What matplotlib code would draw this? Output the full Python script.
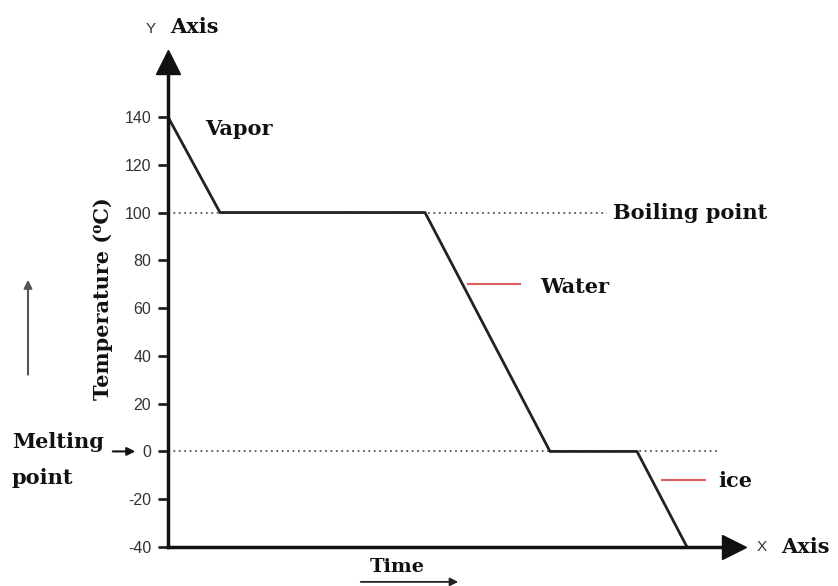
import matplotlib.pyplot as plt
plt.rcParams['axes.unicode_minus'] = False

# heating curve corners (time in arbitrary units, temperature in degC)
time = [0, 5.2, 25.7, 38.2, 46.9, 51.9]
temp = [140, 100, 100, 0, 0, -40]
yticks = [-40, -20, 0, 20, 40, 60, 80, 100, 120, 140]
boiling, melting = 100, 0

serif = {'family': ['DejaVu Serif', 'DejaVu Sans'], 'weight': 'bold',
         'color': '#111'}

fig = plt.figure(figsize=(8.38, 5.86), dpi=100)
ax = fig.add_axes([168/838, 39/586, 566/838, 485/586])
ax.set_xlim(0, 56.6)
ax.set_ylim(-40, 163)

for s in ['top', 'right']:
    ax.spines[s].set_visible(False)
for s in ['left', 'bottom']:
    ax.spines[s].set_linewidth(2.5)
    ax.spines[s].set_color('#111')

# arrow heads on the axes
ax.plot(0, 1, '^', color='#111', ms=17, transform=ax.transAxes, clip_on=False)
ax.plot(1, 0, '>', color='#111', ms=17, transform=ax.transAxes, clip_on=False)

ax.set_xticks([])
ax.set_yticks(yticks)
ax.tick_params(axis='y', length=7, width=2, color='#222', labelsize=11.5,
               labelcolor='#333', pad=5)
for lab in ax.get_yticklabels():
    lab.set_fontfamily('Liberation Sans')

ax.plot([0, 43.9], [boiling, boiling], color='#555', lw=1.3, ls=(0, (1, 2)))
ax.plot([0, 55], [melting, melting], color='#555', lw=1.3, ls=(0, (1, 2)))
ax.plot(time, temp, color='#222', lw=2)

# red markers next to labels
ax.plot([30, 35.2], [70, 70], color='#e06060', lw=1.5)
ax.plot([49.4, 53.7], [-12, -12], color='#e06060', lw=1.5)

ax.text(3.7, 135, 'Vapor', fontsize=15, va='center', **serif)
ax.text(44.5, 100, 'Boiling point', fontsize=15, va='center', **serif)
ax.text(37.2, 69, 'Water', fontsize=15, va='center', **serif)
ax.text(55, -12.5, 'ice', fontsize=15, va='center', **serif)
ax.text(-15.6, 4, 'Melting', fontsize=15, va='center', **serif)
ax.text(-15.6, -11, 'point', fontsize=15, va='center', **serif)
ax.annotate('', xy=(-3.0, 0), xytext=(-5.8, 0), annotation_clip=False,
            arrowprops=dict(arrowstyle='-|>', color='#111', lw=1.5,
                            mutation_scale=12))

ax.set_ylabel('Temperature (\u2070C)', fontsize=15, **serif)
ax.yaxis.set_label_coords(-0.097, 0.513)

# axis captions
ax.text(-2.2, 177, 'Y', fontsize=11, va='center', family='Liberation Sans',
        color='#333')
ax.text(0.2, 177.5, 'Axis', fontsize=15, va='center', **serif)
ax.text(58.9, -40, 'X', fontsize=11, va='center', family='Liberation Sans',
        color='#333')
ax.text(61.3, -40, 'Axis', fontsize=15, va='center', **serif)

ax.text(20.2, -48.5, 'Time', fontsize=14, va='center', **serif)
ax.annotate('', xy=(29.3, -54.6), xytext=(19.0, -54.6), annotation_clip=False,
            arrowprops=dict(arrowstyle='-|>', color='#222', lw=1.3,
                            mutation_scale=12))

# arrow on the far left
ax.annotate('', xy=(-14, 73), xytext=(-14, 31), annotation_clip=False,
            arrowprops=dict(arrowstyle='-|>', color='#555', lw=1.5,
                            mutation_scale=12))

fig.savefig('out.png')
